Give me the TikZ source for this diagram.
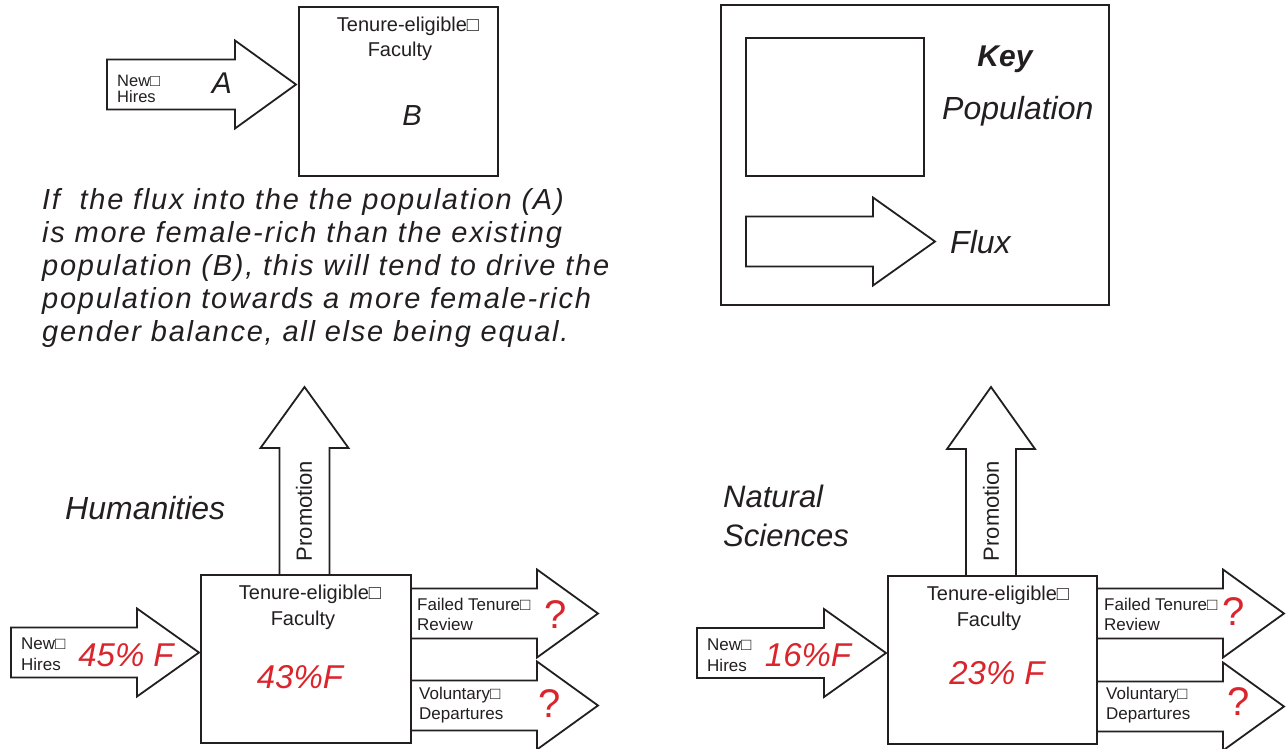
\documentclass[tikz,border=0pt]{standalone}
\usepackage{fontspec}
\setmainfont{Liberation Sans}
\newfontfamily\parafont[LetterSpace=6]{Liberation Sans}
\definecolor{ink}{RGB}{35,31,32}
\definecolor{pctred}{RGB}{218,37,44}
\newcommand\fsz[1]{\fontsize{#1}{#1}\selectfont}
\newcommand\arrR[4]{\draw[blk] (#1,#4-25) -- (#2,#4-25) -- (#2,#4-44) -- (#3,#4) -- (#2,#4+44) -- (#2,#4+25) -- (#1,#4+25) -- cycle;}
\newcommand\arrU[4]{\draw[blk] (#1-25,#2) -- (#1-25,#3) -- (#1-44,#3) -- (#1,#4) -- (#1+44,#3) -- (#1+25,#3) -- (#1+25,#2) -- cycle;}
\begin{document}
\begin{tikzpicture}[x=1pt,y=-1pt,
  blk/.style={draw=ink,line width=1.8pt,fill=white,line join=miter},
  box/.style={draw=ink,line width=1.8pt,fill=white,inner sep=0pt,outer sep=0pt,anchor=north west},
  lbl/.style={inner sep=0pt,text=ink,anchor=base west},
  ctr/.style={inner sep=0pt,text=ink,anchor=base},
  small/.style={font=\fsz{17}},
  tiny/.style={font=\fsz{16.5}},
  mid/.style={font=\fsz{20}},
  pct/.style={inner sep=0pt,text=pctred,anchor=base,font={\fsz{33}\itshape}},
  qm/.style={inner sep=0pt,text=pctred,anchor=base,font=\fsz{40}},
  big/.style={font={\fsz{32}\itshape}},
  para/.style={inner sep=0pt,text=ink,anchor=base west,font={\parafont\fsz{29}\itshape}},
  promo/.style={inner sep=0pt,text=ink,rotate=90,font=\fsz{22}}
]
\useasboundingbox (0,0) rectangle (1286,748);
\clip (0,0) rectangle (1286,748);

% ---------- top example ----------
\arrR{107}{235}{296}{84.5}
\node[box,minimum width=199pt,minimum height=169pt] (topbox) at (299,7) {};
\node[lbl,tiny] (tnew) at (117,86) {New□};
\node[lbl,tiny] (thires) at (117,102) {Hires};
\node[ctr,font={\fsz{30}\itshape}] (ta) at (222,93) {A};
\node[ctr,mid] (tten) at (408,31) {Tenure-eligible□};
\node[ctr,mid] (tfac) at (400,56) {Faculty};
\node[ctr,font={\fsz{29}\itshape}] (tb) at (412,125) {B};

\node[para] (p1) at (42,209) {If\ \ the flux into the the population (A)};
\node[para] (p2) at (42,242) {is more female-rich than the existing};
\node[para] (p3) at (42,275) {population (B), this will tend to drive the};
\node[para] (p4) at (42,308) {population towards a more female-rich};
\node[para] (p5) at (42,341) {gender balance, all else being equal.};

% ---------- key ----------
\node[box,minimum width=388pt,minimum height=300pt] (keybox) at (721,5) {};
\node[box,minimum width=178pt,minimum height=138pt] (keypop) at (746,38) {};
\arrR{746}{873}{935}{241.5}
\node[ctr,font={\fsz{30}\bfseries\itshape}] (keyt) at (1005,66) {Key};
\node[lbl,big] (keyp) at (942,119) {Population};
\node[lbl,big] (keyf) at (950,253) {Flux};

% ---------- Humanities ----------
\node[lbl,big] (hum) at (65,519) {Humanities};
\arrR{11}{137}{199}{652.5}
\arrU{304.5}{575}{448}{387}
\arrR{411}{537}{598}{613.5}
\arrR{411}{537}{598}{705.5}
\node[box,minimum width=210pt,minimum height=168pt] (hbox) at (201,575) {};
\node[promo] (hpromo) at (304,511) {Promotion};
\node[lbl,small] (hnew) at (21,649) {New□};
\node[lbl,small] (hhires) at (21,670) {Hires};
\node[pct] (hin) at (126,666) {45\% F};
\node[ctr,mid] (hten) at (310,599) {Tenure-eligible□};
\node[ctr,mid] (hfac) at (303,625) {Faculty};
\node[pct] (hpop) at (300,688) {43\%F};
\node[lbl,small] (hfail) at (417,610) {Failed Tenure□};
\node[lbl,small] (hrev) at (417,630) {Review};
\node[qm] (hq1) at (556,628) {?};
\node[lbl,small] (hvol) at (419,699) {Voluntary□};
\node[lbl,small] (hdep) at (419,719) {Departures};
\node[qm] (hq2) at (550,717) {?};

% ---------- Natural Sciences ----------
\node[lbl,font={\fsz{31}\itshape}] (nat1) at (723,507) {Natural};
\node[lbl,font={\fsz{31}\itshape}] (nat2) at (723,546) {Sciences};
\arrR{697}{824}{886}{653}
\arrU{991}{576}{449}{387}
\arrR{1097}{1223}{1284}{613.5}
\arrR{1097}{1223}{1284}{706.5}
\node[box,minimum width=209pt,minimum height=168pt] (nbox) at (888,576) {};
\node[promo] (npromo) at (991,511) {Promotion};
\node[lbl,small] (nnew) at (707,650) {New□};
\node[lbl,small] (nhires) at (707,671) {Hires};
\node[pct] (nin) at (808,666) {16\%F};
\node[ctr,mid] (nten) at (998,600) {Tenure-eligible□};
\node[ctr,mid] (nfac) at (989,626) {Faculty};
\node[pct] (npop) at (997,684) {23\% F};
\node[lbl,small] (nfail) at (1104,610) {Failed Tenure□};
\node[lbl,small] (nrev) at (1104,630) {Review};
\node[qm] (nq1) at (1234,625) {?};
\node[lbl,small] (nvol) at (1106,699) {Voluntary□};
\node[lbl,small] (ndep) at (1106,719) {Departures};
\node[qm] (nq2) at (1239,715) {?};
\end{tikzpicture}
\end{document}
